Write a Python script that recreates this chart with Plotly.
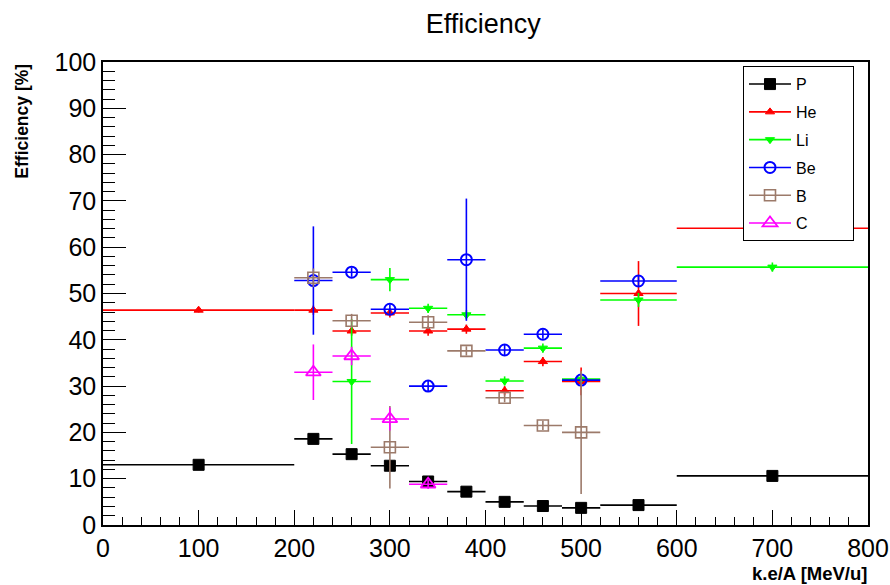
import plotly.graph_objects as go

# Energy bins (kinetic energy per nucleon, MeV/u): centres and half-widths
bin_center = [100, 220, 260, 300, 340, 380, 420, 460, 500, 560, 700]
bin_half = [100, 20, 20, 20, 20, 20, 20, 20, 20, 40, 100]

# Efficiency [%] per species (None = no entry in that bin) and their errors
p_eff = [13.0, 18.6, 15.3, 12.8, 9.4, 7.2, 5.0, 4.1, 3.7, 4.3, 10.6]
p_err = [0.5, 0.6, 0.6, 0.8, 0.6, 0.5, 0.4, 0.4, 0.4, 0.4, 0.5]

he_eff = [46.4, 46.4, 41.9, 45.8, 41.9, 42.3, 29.0, 35.3, 31.0, 50.0, 64.1]
he_err = [0.5, 1.0, 1.0, 1.0, 1.0, 1.0, 1.0, 1.0, 3.0, 7.0, 0.6]

li_eff = [None, None, 31.0, 53.0, 46.8, 45.4, 31.1, 38.2, 31.5, 48.6, 55.7]
li_err = [0, 0, 13.5, 2.5, 1.0, 1.0, 1.0, 1.0, 1.0, 1.5, 1.0]

be_eff = [None, 52.8, 54.6, 46.6, 30.0, 57.3, 37.8, 41.2, 31.3, 52.7, None]
be_err = [0, 11.7, 1.0, 1.0, 1.2, 13.2, 1.2, 1.0, 1.0, 1.2, 0]

b_eff = [None, 53.4, 44.1, 16.8, 43.8, 37.6, 27.5, 21.5, 20.0, None, None]
b_err = [0, 2.0, 1.5, 8.9, 1.5, 1.0, 1.0, 1.0, 13.3, 0, 0]

c_eff = [None, 33.0, 36.5, 22.9, 8.8, None, None, None, None, None, None]
c_err = [0, 6.0, 2.0, 2.5, 1.0, 0, 0, 0, 0, 0, 0]

species = [
    ("P", p_eff, p_err, "#000000", "square", 11, 1),
    ("He", he_eff, he_err, "#ff0000", "triangle-up", 8, 1),
    ("Li", li_eff, li_err, "#00ff00", "triangle-down", 8, 1),
    ("Be", be_eff, be_err, "#0000ff", "circle-open", 11, 2),
    ("B", b_eff, b_err, "#9c7a6a", "square-open", 11, 1.6),
    ("C", c_eff, c_err, "#ff00ff", "triangle-up-open", 13, 1.8),
]

FONT = "Liberation Sans, Arial, sans-serif"
# trailing non-breaking spaces give the legend box its right-hand padding
LEGEND_PAD = "\u00a0" * 7

fig = go.Figure()

for name, eff, err, color, symbol, size, mlw in species:
    xs, ys, ex, ey = [], [], [], []
    for xc, hw, v, e in zip(bin_center, bin_half, eff, err):
        if v is None:
            continue
        xs.append(xc)
        ys.append(v)
        ex.append(hw)
        ey.append(e)
    fig.add_trace(go.Scatter(
        x=xs, y=ys, mode="markers", name=name, showlegend=False,
        marker=dict(symbol=symbol, size=size, color=color,
                    line=dict(color=color, width=mlw)),
        error_x=dict(type="data", array=ex, width=0, color=color, thickness=1.6),
        error_y=dict(type="data", array=ey, width=0, color=color, thickness=1.6),
    ))

# Legend entries drawn as line + marker, like the graph options
for name, eff, err, color, symbol, size, mlw in species:
    fig.add_trace(go.Scatter(
        x=[None], y=[None], mode="lines+markers", name=name + LEGEND_PAD, legendgroup=name,
        line=dict(color=color, width=1.6),
        marker=dict(symbol=symbol, size=size, color=color,
                    line=dict(color=color, width=mlw)),
    ))

axis_font = dict(family=FONT, size=25, color="#000000")

fig.update_layout(
    width=890, height=585,
    paper_bgcolor="white", plot_bgcolor="white",
    margin=dict(l=103, r=22, t=62, b=60, autoexpand=False),
    title=dict(text="Efficiency", x=0.543, xanchor="center", y=0.959, yanchor="middle",
               font=dict(family=FONT, size=27, color="#000000")),
    showlegend=True,
    legend=dict(x=0.8366, y=0.991, xanchor="left", yanchor="top",
                bgcolor="white", bordercolor="#000000", borderwidth=1,
                font=dict(family=FONT, size=16, color="#000000"),
                itemwidth=42, tracegroupgap=4),
    xaxis=dict(range=[0, 800], showgrid=False, zeroline=False, automargin=False,
               showline=True, linecolor="#000000", linewidth=1.5, mirror=True,
               ticks="inside", ticklen=15, tickwidth=1.2, tickcolor="#000000",
               tick0=0, dtick=100, tickfont=axis_font,
               minor=dict(ticks="inside", ticklen=8, dtick=20, tickcolor="#000000", tickwidth=1)),
    yaxis=dict(range=[0, 100], showgrid=False, zeroline=False, automargin=False,
               showline=True, linecolor="#000000", linewidth=1.5, mirror=True,
               ticks="inside", ticklen=23, tickwidth=1.2, tickcolor="#000000",
               tick0=0, dtick=10, tickfont=axis_font,
               minor=dict(ticks="inside", ticklen=12, dtick=2, tickcolor="#000000", tickwidth=1)),
    annotations=[
        dict(text="<b>k.e/A [MeV/u]</b>", xref="paper", yref="paper", x=1.0013, y=-0.104,
             xanchor="right", yanchor="middle", showarrow=False,
             font=dict(family=FONT, size=18.5, color="#000000")),
        dict(text="<b>Efficiency [%]</b>", xref="paper", yref="paper", x=-0.107, y=1.0,
             xanchor="center", yanchor="top", textangle=-90, showarrow=False,
             font=dict(family=FONT, size=17.5, color="#000000")),
    ],
)

fig.write_html("out.html")
